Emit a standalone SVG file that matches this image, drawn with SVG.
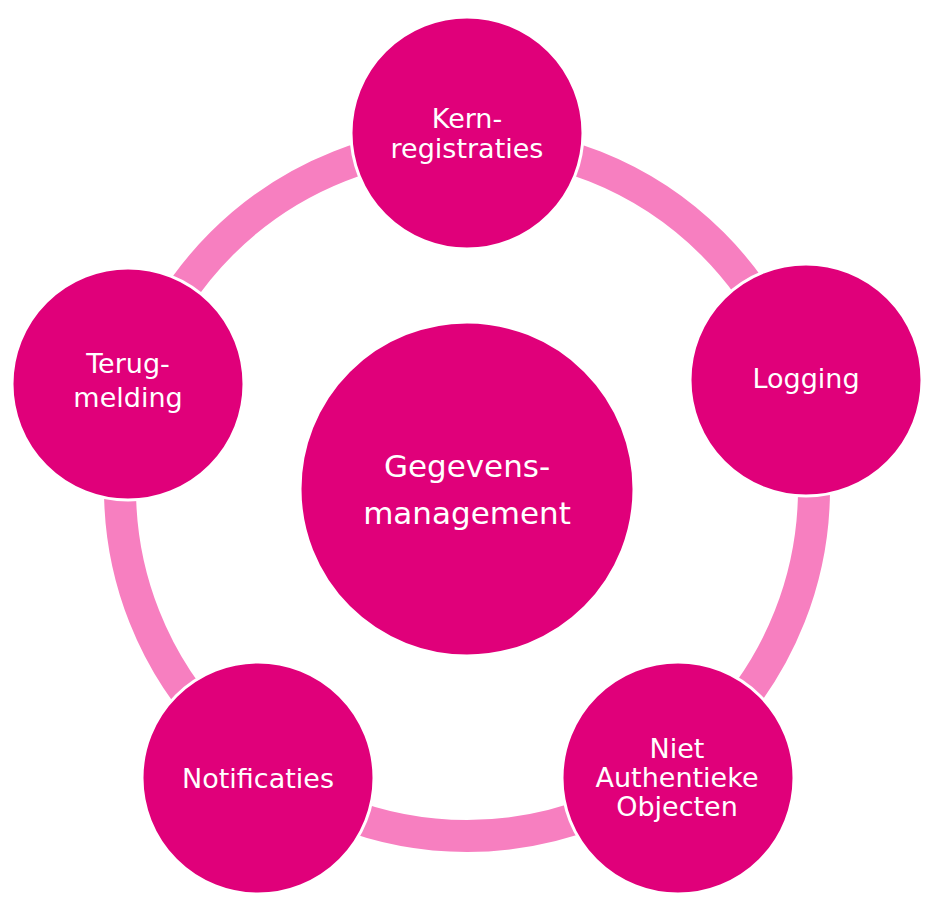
<svg xmlns="http://www.w3.org/2000/svg" width="934" height="904" viewBox="0 0 934 904">
<style>
.node{fill:#e0007a;stroke:#ffffff;stroke-width:3}
.ring{fill:none;stroke:#f77fc0;stroke-width:32}
text{font-family:"DejaVu Sans",Verdana,sans-serif;fill:#ffffff;text-anchor:middle;font-size:27px}
.big{font-size:31px}
</style>
<rect width="934" height="904" fill="#ffffff"/>
<g id="connectors">
<circle class="ring" cx="467" cy="489" r="347"/>
</g>
<g id="center">
<circle class="node" cx="467" cy="489" r="167" stroke="none"/>
<text class="big" x="467" y="477">Gegevens-</text>
<text class="big" x="467" y="524">management</text>
</g>
<g id="kernregistraties">
<circle class="node" cx="467" cy="133" r="116"/>
<text x="467" y="128">Kern-</text>
<text x="467" y="158">registraties</text>
</g>
<g id="logging">
<circle class="node" cx="806" cy="380" r="116"/>
<text x="806" y="388">Logging</text>
</g>
<g id="niet-authentieke-objecten">
<circle class="node" cx="678" cy="778" r="116"/>
<text x="677" y="758">Niet</text>
<text x="677" y="787">Authentieke</text>
<text x="677" y="816">Objecten</text>
</g>
<g id="notificaties">
<circle class="node" cx="258" cy="778" r="116"/>
<text x="258" y="788">Notificaties</text>
</g>
<g id="terugmelding">
<circle class="node" cx="128" cy="384" r="116"/>
<text x="128" y="373">Terug-</text>
<text x="128" y="407">melding</text>
</g>
</svg>
